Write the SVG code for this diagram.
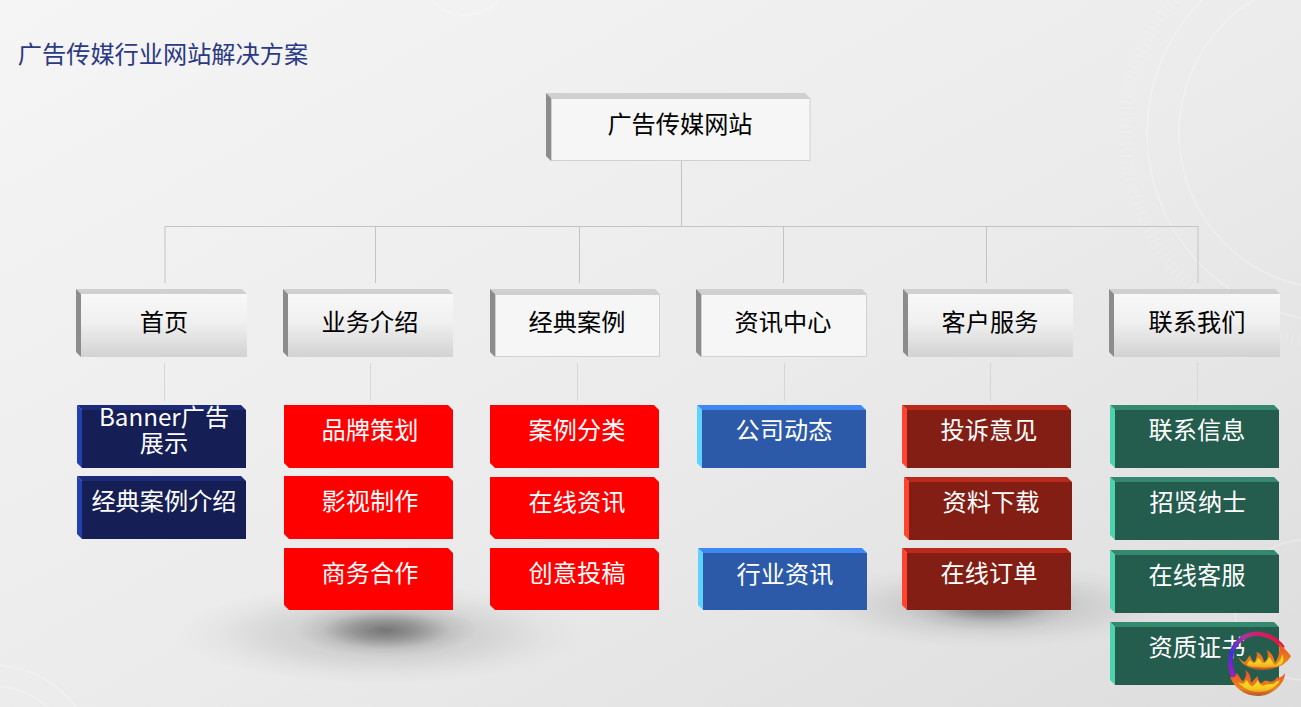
<svg xmlns="http://www.w3.org/2000/svg" width="1301" height="707" viewBox="0 0 1301 707">
<style>
text{font-family:"Noto Sans CJK SC","Noto Sans",sans-serif;font-size:24.2px;text-anchor:middle}
.k{fill:#000}.w{fill:#fff}
.conn{stroke:#c4c4c4;stroke-width:1;fill:none}
.conn2{stroke:#d6d6d6;stroke-width:1;fill:none}
.deco{stroke:#fff;fill:none;stroke-opacity:.3;stroke-width:1.500}
.tick{stroke:#fff;fill:none;stroke-opacity:.22;stroke-width:12;stroke-dasharray:1 5}
.gt{fill:#d0d0d0}.gl{fill:#8c8c8c}
.navy{fill:#151e55}.navyt{fill:#1d2a78}.navyl{fill:#2440b0}
.blue{fill:#2c5aa8}.bluet{fill:#3f87f5}.bluel{fill:#5fd2ff}
.dr{fill:#831e15}.drt{fill:#bc281c}.drl{fill:#ff432f}
.gr{fill:#245c4e}.grt{fill:#35896f}.grl{fill:#4cd3ae}
</style>
<defs>
<linearGradient id="bg" x1="0" y1="0" x2="1" y2="1"><stop offset="0" stop-color="#f5f5f5"/><stop offset=".55" stop-color="#ebebeb"/><stop offset="1" stop-color="#dddddd"/></linearGradient>
<linearGradient id="silver" x1="0" y1="0" x2="0" y2="1"><stop offset="0" stop-color="#f8f8f8"/><stop offset=".45" stop-color="#f0f0f0"/><stop offset="1" stop-color="#d2d2d2"/></linearGradient>
<radialGradient id="sh1"><stop offset="0" stop-color="#000" stop-opacity=".14"/><stop offset=".5" stop-color="#000" stop-opacity=".09"/><stop offset=".8" stop-color="#000" stop-opacity=".025"/><stop offset="1" stop-color="#000" stop-opacity="0"/></radialGradient>
<radialGradient id="sh2"><stop offset="0" stop-color="#000" stop-opacity=".42"/><stop offset=".35" stop-color="#000" stop-opacity=".27"/><stop offset=".7" stop-color="#000" stop-opacity=".07"/><stop offset="1" stop-color="#000" stop-opacity="0"/></radialGradient>
<linearGradient id="ring" x1="0" y1="1" x2="1" y2="0"><stop offset="0" stop-color="#d010c0"/><stop offset=".3" stop-color="#3a30e0"/><stop offset=".6" stop-color="#b030a0"/><stop offset="1" stop-color="#e81020"/></linearGradient>
<linearGradient id="fire" x1="0" y1="0" x2="0" y2="1"><stop offset="0" stop-color="#f04a20"/><stop offset=".7" stop-color="#e8861e"/><stop offset="1" stop-color="#b8542a"/></linearGradient>
<linearGradient id="fire2" x1="0" y1="0" x2="0" y2="1"><stop offset="0" stop-color="#f8e820"/><stop offset=".7" stop-color="#f6c820"/><stop offset="1" stop-color="#f0a020"/></linearGradient>
</defs>
<rect id="background" width="1301" height="707" fill="url(#bg)"/>
<g id="decoration">
<circle class="deco" cx="465" cy="-30" r="45"/>
<circle class="deco" cx="-8" cy="770" r="105"/>
<circle class="deco" cx="-8" cy="770" r="84"/>
<circle class="deco" cx="1335" cy="133" r="188"/>
<circle class="deco" cx="1335" cy="133" r="156"/>
<circle class="tick" cx="1335" cy="133" r="210"/>
<circle class="deco" cx="1305" cy="610" r="70"/>
</g>
<ellipse cx="380" cy="634" rx="205" ry="50" fill="url(#sh1)"/>
<ellipse cx="386" cy="630" rx="92" ry="27" fill="url(#sh2)"/>
<ellipse cx="990" cy="606" rx="185" ry="42" fill="url(#sh1)"/>
<ellipse cx="990" cy="604" rx="90" ry="27" fill="url(#sh2)"/>
<text id="title" x="163" y="63" style="fill:#2b3a82">广告传媒行业网站解决方案</text>
<g id="connectors">
<path class="conn" d="M681.500 161V226M165 226.500H1198M165 226V283M375.500 226V283M579.500 226V283M783.500 226V283M986.500 226V283M1198 226V283"/>
<path class="conn2" d="M164.500 363V401M370.500 363V401M577.500 363V401M784.500 363V401M990.500 363V401M1197.500 363V401"/>
</g>
<g id="root"><path class="gt" d="M546 93H805L810 98H551Z"/><path class="gl" d="M546 93L551 98V161L546 156Z"/><rect x="551.500" y="98.500" width="258.500" height="62" fill="#f6f6f6" stroke="#d0d0d0"/><text class="k" x="680" y="133">广告传媒网站</text></g>
<g id="l1-home"><path class="gt" d="M76 289H242L247 294H81Z"/><path class="gl" d="M76 289L81 294V357L76 352Z"/><rect x="81" y="294" width="166" height="63" fill="url(#silver)"/><text class="k" x="164" y="331">首页</text></g>
<g id="l1-business"><path class="gt" d="M283 289H448L453 294H288Z"/><path class="gl" d="M283 289L288 294V357L283 352Z"/><rect x="288" y="294" width="165" height="63" fill="url(#silver)"/><text class="k" x="370" y="331">业务介绍</text></g>
<g id="l1-cases"><path class="gt" d="M490 289H655L660 294H495Z"/><path class="gl" d="M490 289L495 294V357L490 352Z"/><rect x="495.500" y="294.500" width="164" height="62" fill="#f6f6f6" stroke="#d0d0d0"/><text class="k" x="577" y="331">经典案例</text></g>
<g id="l1-news"><path class="gt" d="M696 289H862L867 294H701Z"/><path class="gl" d="M696 289L701 294V357L696 352Z"/><rect x="701.500" y="294.500" width="165" height="62" fill="#f6f6f6" stroke="#d0d0d0"/><text class="k" x="783" y="331">资讯中心</text></g>
<g id="l1-service"><path class="gt" d="M903 289H1068L1073 294H908Z"/><path class="gl" d="M903 289L908 294V357L903 352Z"/><rect x="908" y="294" width="165" height="63" fill="url(#silver)"/><text class="k" x="990" y="331">客户服务</text></g>
<g id="l1-contact"><path class="gt" d="M1109 289H1275L1280 294H1114Z"/><path class="gl" d="M1109 289L1114 294V357L1109 352Z"/><rect x="1114" y="294" width="166" height="63" fill="url(#silver)"/><text class="k" x="1197" y="331">联系我们</text></g>

<g id="home-1"><rect class="navy" x="82" y="410" width="164" height="58"/><path class="navyt" d="M77 405H241L246 410H82Z"/><path class="navyl" d="M77 405L82 410V468L77 463Z"/><text class="w"><tspan x="164" y="426">Banner广告</tspan><tspan x="164" y="452">展示</tspan></text></g>
<g id="home-2"><rect class="navy" x="82" y="481" width="164" height="58"/><path class="navyt" d="M77 476H241L246 481H82Z"/><path class="navyl" d="M77 476L82 481V539L77 534Z"/><text class="w" x="164" y="510">经典案例介绍</text></g>

<g id="biz-1"><path fill="#f00" d="M284 405H448L453 410V468H289L284 463Z"/><text class="w" x="370" y="439">品牌策划</text></g>
<g id="biz-2"><path fill="#f00" d="M284 476H448L453 481V539H289L284 534Z"/><text class="w" x="370" y="510">影视制作</text></g>
<g id="biz-3"><path fill="#f00" d="M284 548H448L453 553V610H289L284 605Z"/><text class="w" x="370" y="582">商务合作</text></g>

<g id="case-1"><path fill="#f00" d="M490 405H654L659 410V468H495L490 463Z"/><text class="w" x="577" y="439">案例分类</text></g>
<g id="case-2"><path fill="#f00" d="M490 477H654L659 482V539H495L490 534Z"/><text class="w" x="577" y="511">在线资讯</text></g>
<g id="case-3"><path fill="#f00" d="M490 548H654L659 553V610H495L490 605Z"/><text class="w" x="577" y="582">创意投稿</text></g>

<g id="news-1"><rect class="blue" x="702" y="410" width="164" height="58"/><path class="bluet" d="M697 405H861L866 410H702Z"/><path class="bluel" d="M697 405L702 410V468L697 463Z"/><text class="w" x="784" y="439">公司动态</text></g>
<g id="news-2"><rect class="blue" x="703" y="553" width="164" height="57"/><path class="bluet" d="M698 548H862L867 553H703Z"/><path class="bluel" d="M698 548L703 553V610L698 605Z"/><text class="w" x="785" y="583">行业资讯</text></g>

<g id="svc-1"><rect class="dr" x="907" y="410" width="164" height="58"/><path class="drt" d="M902 405H1066L1071 410H907Z"/><path class="drl" d="M902 405L907 410V468L902 463Z"/><text class="w" x="989" y="439">投诉意见</text></g>
<g id="svc-2"><rect class="dr" x="909" y="482" width="163" height="58"/><path class="drt" d="M904 477H1067L1072 482H909Z"/><path class="drl" d="M904 477L909 482V540L904 535Z"/><text class="w" x="991" y="511">资料下载</text></g>
<g id="svc-3"><rect class="dr" x="907" y="553" width="164" height="57"/><path class="drt" d="M902 548H1066L1071 553H907Z"/><path class="drl" d="M902 548L907 553V610L902 605Z"/><text class="w" x="989" y="582">在线订单</text></g>

<g id="contact-1"><rect class="gr" x="1115" y="410" width="164" height="58"/><path class="grt" d="M1110 405H1274L1279 410H1115Z"/><path class="grl" d="M1110 405L1115 410V468L1110 463Z"/><text class="w" x="1197" y="439">联系信息</text></g>
<g id="contact-2"><rect class="gr" x="1115" y="482" width="164" height="58"/><path class="grt" d="M1110 477H1274L1279 482H1115Z"/><path class="grl" d="M1110 477L1115 482V540L1110 535Z"/><text class="w" x="1198" y="511">招贤纳士</text></g>
<g id="contact-3"><rect class="gr" x="1115" y="555" width="164" height="58"/><path class="grt" d="M1110 550H1274L1279 555H1115Z"/><path class="grl" d="M1110 550L1115 555V613L1110 608Z"/><text class="w" x="1197" y="584">在线客服</text></g>
<g id="contact-4"><rect class="gr" x="1115" y="627" width="164" height="58"/><path class="grt" d="M1110 622H1274L1279 627H1115Z"/><path class="grl" d="M1110 622L1115 627V685L1110 680Z"/><text class="w" x="1197" y="656">资质证书</text></g>

<g id="logo">
<path d="M1236 681C1228 668 1228 650 1240 640C1252 630 1272 632 1283 648" fill="none" stroke="url(#ring)" stroke-width="4.500"/>
<path d="M1238 657C1241 660 1243 662 1245 662C1247 660 1248 657 1250 655C1251 658 1252 662 1255 662C1256 658 1258 654 1256 652C1261 653 1263 657 1264 662C1267 660 1269 658 1267 650C1272 653 1274 658 1275 663C1279 658 1280 650 1279 643C1284 648 1288 652 1291 656C1287 664 1276 670 1262 670C1250 670 1242 665 1238 657Z" fill="url(#fire)"/>
<path d="M1247 665C1248 662 1250 660 1251 661C1253 664 1255 664 1257 660C1258 657 1259 658 1261 661C1263 665 1267 663 1269 657C1272 660 1273 664 1275 665C1279 663 1282 658 1282 654C1284 658 1284 662 1281 665C1275 668 1255 669 1247 665Z" fill="url(#fire2)"/>
<path d="M1230 677C1234 678 1236 677 1236 673C1240 675 1240 680 1243 681C1246 678 1247 673 1245 670C1250 672 1251 678 1251 683C1254 680 1256 677 1258 676C1258 680 1259 683 1262 683C1264 680 1266 680 1268 681C1272 683 1276 680 1277 677C1279 679 1283 676 1285 673C1285 684 1272 696 1258 696C1244 696 1234 687 1230 677Z" fill="url(#fire)"/>
<path d="M1238 682C1241 684 1245 685 1246 680C1249 682 1250 687 1253 686C1256 684 1257 681 1258 680C1259 684 1262 687 1265 685C1268 683 1272 686 1276 682C1278 681 1280 680 1280 680C1277 687 1268 692 1258 692C1250 692 1243 688 1238 682Z" fill="url(#fire2)"/>
</g>
</svg>
